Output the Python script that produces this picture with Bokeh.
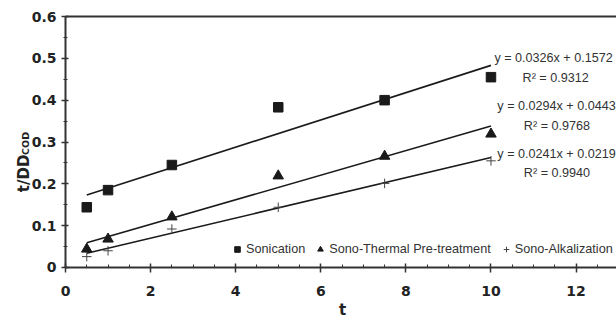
from bokeh.plotting import figure
from bokeh.models import (Range1d, Label, Legend, LegendItem, SingleIntervalTicker,
                          LinearAxis, FixedTicker)
from bokeh.embed import file_html
from bokeh.resources import INLINE
import math

# ---- data ----
t = [0.5, 1, 2.5, 5, 7.5, 10]
sonication = [0.144, 0.185, 0.245, 0.383, 0.400, 0.455]
sono_thermal = [0.044, 0.068, 0.121, 0.219, 0.266, 0.319]
sono_alkal = [0.026, 0.040, 0.092, 0.144, 0.201, 0.255]

series_names = ["Sonication", "Sono-Thermal Pre-treatment", "Sono-Alkalization"]
slopes = [0.0326, 0.0294, 0.0241]
intercepts = [0.1572, 0.0443, 0.0219]
r2 = ["0.9312", "0.9768", "0.9940"]
fit_x = [0.5, 10]

INK = "#1a1a1a"
AX = "#333333"
TXT = "#222222"

p = figure(width=616, height=322, output_backend="svg", toolbar_location=None,
           x_range=Range1d(-1.5276, 12.95), y_range=Range1d(-0.1315, 0.6383),
           min_border_left=0, min_border_right=0, min_border_top=0, min_border_bottom=0)
p.outline_line_color = None
p.xgrid.visible = False
p.ygrid.visible = False
p.background_fill_color = "white"
p.border_fill_color = "white"

p.xaxis.ticker = SingleIntervalTicker(interval=2, num_minor_ticks=4)
p.xaxis.bounds = (0, 13)
p.xaxis.fixed_location = 0
p.yaxis.ticker = SingleIntervalTicker(interval=0.1, num_minor_ticks=2)
p.yaxis.bounds = (0, 0.6001)
p.yaxis.major_label_overrides = {0: "0"}
p.yaxis.fixed_location = 0

for ax in (p.xaxis[0], p.yaxis[0]):
    ax.axis_line_width = 2
    ax.axis_line_color = AX
    ax.major_tick_line_color = AX
    ax.minor_tick_line_color = AX
    ax.major_tick_line_width = 1.5
    ax.minor_tick_line_width = 1
    ax.major_label_text_font = "DejaVu Sans"
    ax.major_label_text_font_style = "bold"
    ax.major_label_text_font_size = "14px"
    ax.major_label_text_color = TXT

p.xaxis.major_tick_in = 4
p.xaxis.major_tick_out = 5
p.xaxis.minor_tick_in = 3
p.xaxis.minor_tick_out = 0
p.xaxis.major_label_standoff = 14

p.yaxis.major_tick_in = 3
p.yaxis.major_tick_out = 4
p.yaxis.minor_tick_in = 2
p.yaxis.minor_tick_out = 2
p.yaxis.major_label_standoff = 5

# top border of the plot area
top = LinearAxis(ticker=FixedTicker(ticks=[]), bounds=(0, 13), fixed_location=0.6,
                 axis_line_width=2, axis_line_color=AX,
                 major_tick_line_color=None, minor_tick_line_color=None,
                 major_label_text_font_size="0px")
p.add_layout(top, "above")

# trend lines
for s, b in zip(slopes, intercepts):
    p.line(fit_x, [s * x + b for x in fit_x], line_color=INK, line_width=1.6)

r1 = p.scatter(t, sonication, marker="square", size=9.5, fill_color=INK, line_color=INK)
r2r = p.scatter(t, sono_thermal, marker="triangle", size=10.5, fill_color=INK, line_color=INK)
r3 = p.scatter(t, sono_alkal, marker="cross", size=9.5, line_color="#444444", line_width=1)

legend = Legend(items=[LegendItem(label=series_names[0], renderers=[r1]),
                       LegendItem(label=series_names[1], renderers=[r2r]),
                       LegendItem(label=series_names[2], renderers=[r3])],
                orientation="horizontal", location=(230, 66),
                padding=0, margin=0, spacing=8, glyph_width=14, glyph_height=14,
                label_standoff=2, border_line_color=None, background_fill_alpha=0,
                label_text_font="Liberation Sans", label_text_font_size="12.7px",
                label_text_color="#333333")
p.add_layout(legend, "center")

# equation annotations
eq_x = [10.08, 10.15, 10.15]
eq_y = [0.4997, 0.387, 0.2725]
r2_x = [11.52, 11.55, 11.55]
r2_y = [0.452, 0.339, 0.227]
for i in range(3):
    p.add_layout(Label(x=eq_x[i], y=eq_y[i],
                       text=f"y = {slopes[i]:.4f}x + {intercepts[i]:.4f}",
                       text_font="Liberation Sans", text_font_size="12.6px",
                       text_color="#333333", text_baseline="middle", text_align="left"))
    p.add_layout(Label(x=r2_x[i], y=r2_y[i], text=f"R\u00b2 = {r2[i]}",
                       text_font="Liberation Sans", text_font_size="12.6px",
                       text_color="#333333", text_baseline="middle", text_align="center"))

# axis titles
p.add_layout(Label(x=6.51, y=-0.1028, text="t", text_font="DejaVu Sans",
                   text_font_style="bold", text_font_size="15px", text_color=TXT,
                   text_align="center", text_baseline="middle"))
p.add_layout(Label(x=-0.987, y=0.225, text="t/DD", angle=math.pi / 2,
                   text_font="DejaVu Sans", text_font_style="bold", text_font_size="15px",
                   text_color=TXT, text_align="center", text_baseline="middle"))
p.add_layout(Label(x=-0.935, y=0.2966, text="COD", angle=math.pi / 2,
                   text_font="DejaVu Sans", text_font_style="bold", text_font_size="9.5px",
                   text_color=TXT, text_align="center", text_baseline="middle"))

open("out.html", "w").write(file_html(p, INLINE))
